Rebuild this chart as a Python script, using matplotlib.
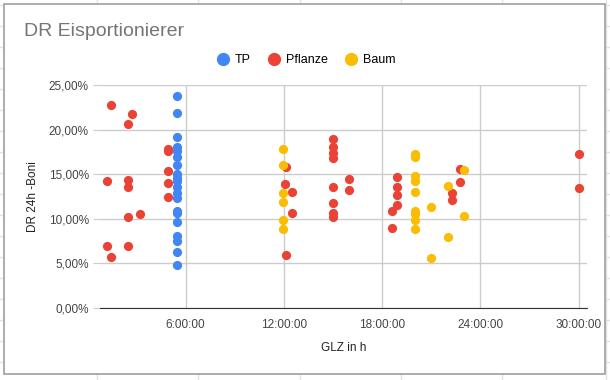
import matplotlib
matplotlib.use("Agg")
import matplotlib.pyplot as plt
from matplotlib.lines import Line2D
from matplotlib.patches import Rectangle
from matplotlib.ticker import FuncFormatter

plt.rcParams['font.family'] = ['Liberation Sans', 'DejaVu Sans']

# GLZ in hours, DR 24h -Boni in percent
tp_h = [5.46] * 20
tp_dr = [23.8, 21.9, 19.2, 18.1, 17.6, 16.9, 16.0, 15.0, 14.6, 14.2,
         13.6, 12.9, 12.3, 10.9, 10.6, 9.6, 8.1, 7.5, 6.3, 4.8]

pflanze_h = [1.45, 2.71, 2.47, 4.95, 4.95, 4.95, 1.23, 2.47, 2.47, 4.95,
             4.95, 2.47, 3.22, 1.23, 2.47, 1.45,
             12.12, 12.08, 12.49, 12.49, 12.12,
             14.97, 14.97, 14.97, 14.97, 14.97, 14.97, 14.97, 14.97,
             15.96, 15.96,
             18.91, 18.91, 18.91, 18.91, 18.6, 18.6,
             22.73, 22.73, 22.24, 22.24,
             30.0, 30.0]
pflanze_dr = [22.8, 21.8, 20.6, 17.8, 17.6, 15.4, 14.2, 14.3, 13.6, 14.0,
              12.4, 10.2, 10.5, 6.9, 6.9, 5.7,
              15.8, 13.9, 13.0, 10.6, 5.9,
              18.9, 18.1, 17.4, 16.8, 13.6, 11.8, 10.6, 10.2,
              14.5, 13.2,
              14.7, 13.6, 12.7, 11.5, 10.9, 9.0,
              15.6, 14.1, 12.9, 12.1,
              17.3, 13.4]

baum_h = [11.96, 11.96, 11.96, 11.96, 11.96, 11.96,
          19.99, 19.99, 19.99, 19.99, 19.99, 19.99, 19.99, 19.99, 19.99,
          20.98, 20.98, 22.0, 22.0, 22.99, 22.99]
baum_dr = [17.8, 16.0, 12.9, 11.9, 9.9, 8.9,
           17.3, 16.9, 14.8, 14.2, 13.0, 10.9, 10.5, 9.9, 8.9,
           11.3, 5.6, 13.7, 8.0, 15.5, 10.3]

x_ticks = [6, 12, 18, 24, 30]
y_ticks = [0, 5, 10, 15, 20, 25]

blue = '#4285F4'
red = '#EA4335'
yellow = '#FBBC04'

W, H = 610, 380
fig = plt.figure(figsize=(W / 100, H / 100), dpi=100)

# spreadsheet cells behind the chart
for xs in [97, 198, 300, 401, 502, 606]:
    fig.add_artist(Line2D([xs / W, xs / W], [0, 1], color='#e2e2e2', lw=1, zorder=-3))
for ys in range(5, 380, 21):
    fig.add_artist(Line2D([0, 1], [1 - ys / H, 1 - ys / H], color='#e2e2e2', lw=1, zorder=-3))
fig.add_artist(Rectangle((4 / W, 1 - 374 / H), 601 / W, 370 / H,
                         facecolor='white', edgecolor='#9e9e9e', lw=1.2, zorder=-2))

ax = fig.add_axes([100 / W, 1 - 308 / H, 487 / W, 223 / H])
ax.set_facecolor('none')

ax.scatter(tp_h, tp_dr, s=44, color=blue, zorder=3, linewidths=0)
ax.scatter(pflanze_h, pflanze_dr, s=44, color=red, zorder=3, linewidths=0)
ax.scatter(baum_h, baum_dr, s=44, color=yellow, zorder=3, linewidths=0)

ax.set_xlim(0.78, 30.5)
ax.set_ylim(0, 25)
ax.set_xticks(x_ticks)
ax.set_yticks(y_ticks)
ax.xaxis.set_major_formatter(FuncFormatter(lambda v, p: f"{int(v)}:00:00"))
ax.yaxis.set_major_formatter(FuncFormatter(lambda v, p: f"{v:.2f}%".replace('.', ',')))
ax.grid(True, color='#cccccc', lw=1)
ax.set_axisbelow(True)
for s in ['top', 'right', 'left']:
    ax.spines[s].set_visible(False)
ax.spines['bottom'].set_color('#333333')
ax.tick_params(axis='y', length=5, color='#cccccc', labelsize=8.5, labelcolor='#444444', pad=3)
ax.tick_params(axis='x', length=0, labelsize=8.5, labelcolor='#444444', pad=8)

ax.set_xlabel('GLZ in h', fontsize=8.5, color='#222222', labelpad=8)
ax.set_ylabel('DR 24h -Boni', fontsize=8.5, color='#222222', labelpad=7)

fig.text(24 / W, 1 - 32 / H, 'DR Eisportionierer', fontsize=14, color='#757575',
         va='center', ha='left')

handles = [Line2D([], [], marker='o', ls='', color=c, markersize=8.5)
           for c in [blue, red, yellow]]
fig.legend(handles, ['TP', 'Pflanze', 'Baum'], loc='center',
           bbox_to_anchor=(306 / W, 1 - 60 / H), ncol=3, frameon=False,
           fontsize=9, handletextpad=0.5, columnspacing=1.3, handlelength=1.0)

fig.savefig('out.png', dpi=100)
